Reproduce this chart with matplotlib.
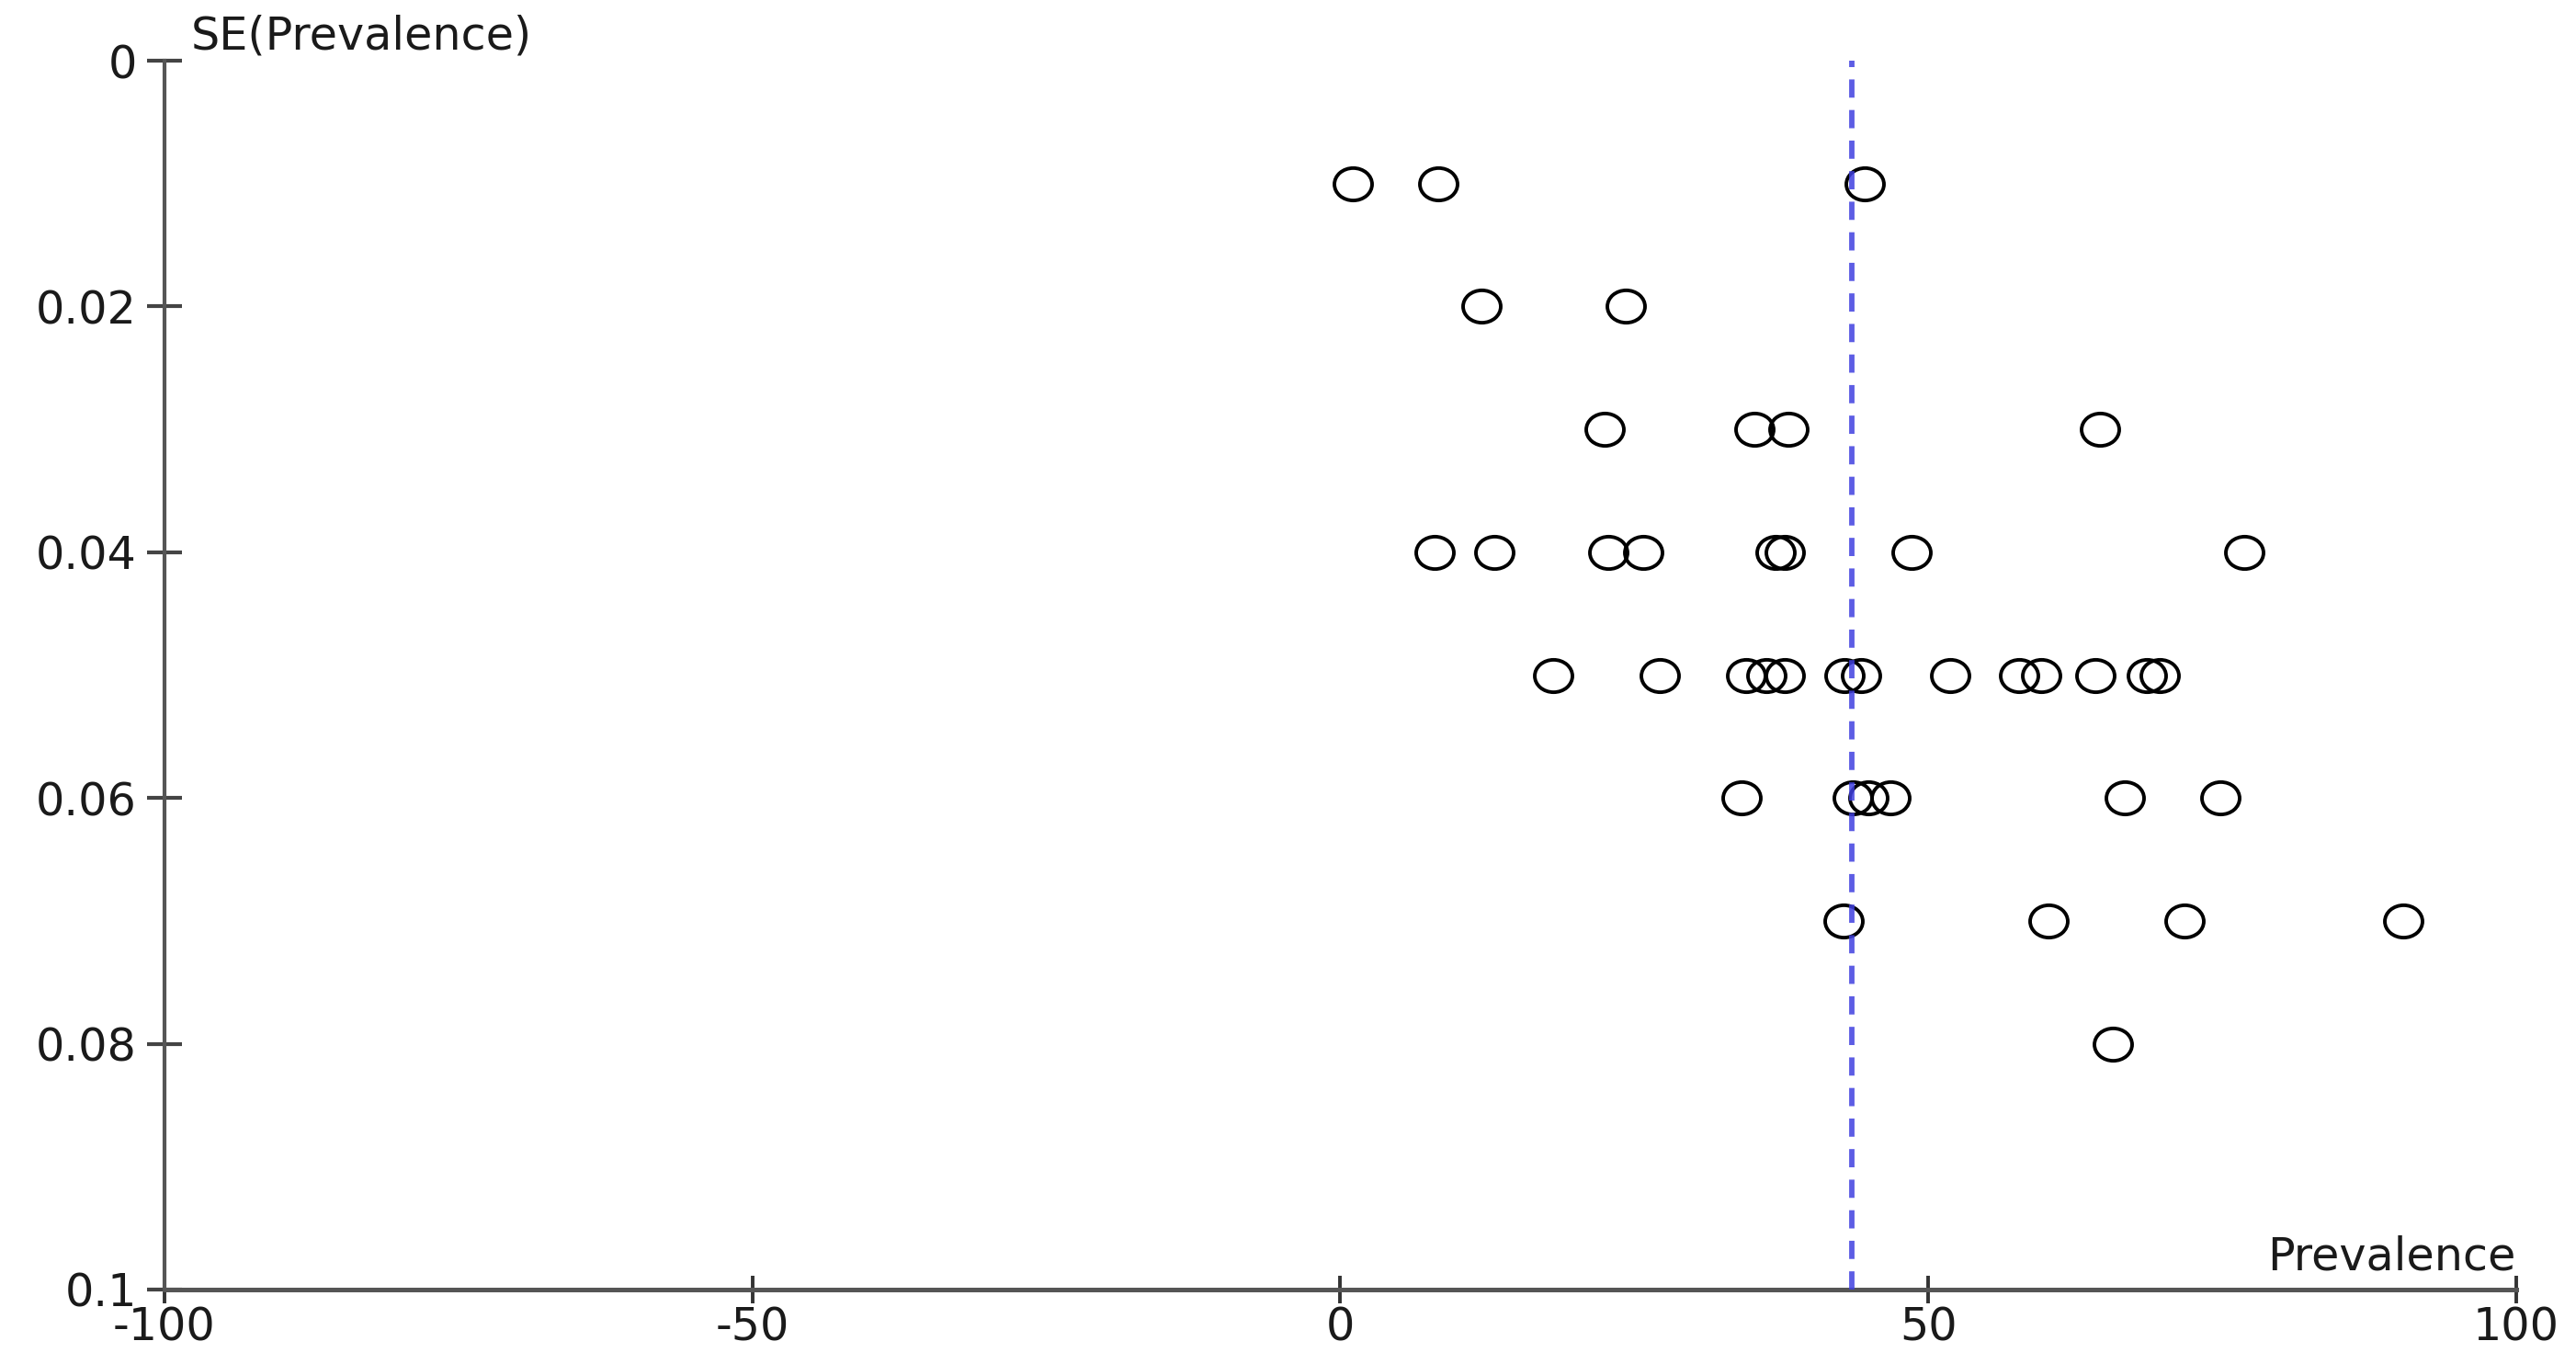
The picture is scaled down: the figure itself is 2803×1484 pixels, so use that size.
import numpy as np
import matplotlib
matplotlib.use("Agg")
import matplotlib.pyplot as plt
from matplotlib.path import Path

# ---- data ----
se_rows = [0.01, 0.02, 0.03, 0.04, 0.05, 0.06, 0.07, 0.08]
prev_001 = [1.1, 8.3, 44.6]
prev_002 = [12.0, 24.3]
prev_003 = [22.5, 35.2, 38.1, 64.6]
prev_004 = [8.0, 13.1, 22.8, 25.8, 37.0, 37.8, 48.6, 76.9]
prev_005 = [18.1, 27.2, 34.5, 36.2, 37.8, 42.9, 44.3, 51.9, 57.7, 59.6, 64.2, 68.6, 69.7]
prev_006 = [34.1, 43.6, 44.9, 46.8, 66.7, 74.8]
prev_007 = [42.8, 60.2, 71.8, 90.4]
prev_008 = [65.7]
pooled = 43.5

x_ticks = [-100, -50, 0, 50, 100]
x_ticklabels = ["-100", "-50", "0", "50", "100"]
y_ticks = [0, 0.02, 0.04, 0.06, 0.08, 0.1]
y_ticklabels = ["0", "0.02", "0.04", "0.06", "0.08", "0.1"]

rows = [prev_001, prev_002, prev_003, prev_004, prev_005, prev_006, prev_007, prev_008]
xs = np.concatenate([np.array(r, float) for r in rows])
ys = np.concatenate([np.full(len(r), s) for r, s in zip(rows, se_rows)])

plt.rcParams['font.family'] = ['DejaVu Sans']
W, H = 2803, 1484
FS = 35.5
fig = plt.figure(figsize=(W / 100, H / 100), dpi=100)
ax = fig.add_axes([178.7 / W, 1 - 1403 / H, (2738 - 178.7) / W, (1403 - 66) / H])

# ellipse-shaped open marker (reference is horizontally stretched)
uc = Path.unit_circle()
ell = Path(uc.vertices * np.array([1.0, 0.86]), uc.codes)

ax.plot(xs, ys, ls='none', marker=ell, markersize=29.5, markerfacecolor='none',
        markeredgecolor='black', markeredgewidth=2.8, zorder=3)

ax.axvline(pooled, color='#4040e0', alpha=0.85, lw=4.2, dashes=(3.4, 2.3), zorder=4)

ax.set_xlim(-100, 100)
ax.set_ylim(0.1, 0)

for s in ['top', 'right']:
    ax.spines[s].set_visible(False)
ax.spines['left'].set_linewidth(3.0)
ax.spines['left'].set_color('#555555')
ax.spines['bottom'].set_linewidth(3.6)
ax.spines['bottom'].set_color('#555555')

ax.set_xticks(x_ticks)
ax.set_xticklabels(x_ticklabels)
ax.set_yticks(y_ticks)
ax.set_yticklabels(y_ticklabels)
ax.tick_params(axis='x', direction='inout', length=21.6, width=2.8, pad=2.0,
               labelsize=FS, colors='#333333', labelcolor='#1a1a1a')
ax.tick_params(axis='y', direction='inout', length=27, width=3.0, pad=8.0,
               labelsize=FS, colors='#444444', labelcolor='#1a1a1a')

fig.text(207.6 / W, 1 - 53 / H, "SE(Prevalence)", ha='left', va='baseline',
         fontsize=FS, color='#1a1a1a')
fig.text(2737 / W, 1 - 1382 / H, "Prevalence", ha='right', va='baseline',
         fontsize=FS, color='#1a1a1a')

fig.savefig("out.png", dpi=100, facecolor='white')
